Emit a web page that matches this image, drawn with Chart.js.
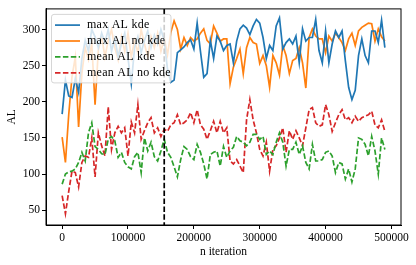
<!DOCTYPE html>
<html>
<head>
<meta charset="utf-8">
<script src="https://cdn.jsdelivr.net/npm/chart.js@4.4.0/dist/chart.umd.min.js"></script>
<style>
  html, body { margin: 0; padding: 0; background: #fff; }
  #wrap { width: 416px; height: 265px; }
</style>
</head>
<body>
<div id="wrap"><canvas id="alChart" width="416" height="265"></canvas></div>
<script>
// x positions of the samples (training iteration)
const iterations = [
  0, 5000, 10000, 15000, 20000, 25000, 30000, 35000, 40000, 45000,
  50000, 55000, 60000, 65000, 70000, 75000, 80000, 85000, 90000, 95000,
  100000, 105000, 110000, 115000, 120000, 125000, 130000, 135000, 140000, 145000,
  150000, 155000, 160000, 165000, 170000, 175000, 180000, 185000, 190000, 195000,
  200000, 205000, 210000, 215000, 220000, 225000, 230000, 235000, 240000, 245000,
  250000, 255000, 260000, 265000, 270000, 275000, 280000, 285000, 290000, 295000,
  300000, 305000, 310000, 315000, 320000, 325000, 330000, 335000, 340000, 345000,
  350000, 355000, 360000, 365000, 370000, 375000, 380000, 385000, 390000, 395000,
  400000, 405000, 410000, 415000, 420000, 425000, 430000, 435000, 440000, 445000,
  450000, 455000, 460000, 465000, 470000, 475000, 480000, 485000, 490000
];

const maxKde = [
  183, 230, 208, 206, 232, 213, 260, 285, 270, 300,
  290, 275, 295, 282, 300, 270, 288, 262, 280, 295,
  260, 225, 275, 290, 268, 285, 298, 275, 292, 280,
  300, 285, 245, 227, 230, 268, 272, 276, 282, 286,
  273, 309, 270, 234, 239, 285, 260, 291, 284, 271,
  278, 280, 254, 284, 301, 306, 302, 293, 305, 314,
  309, 289, 260, 278, 271, 305, 316, 273, 282, 287,
  280, 291, 254, 301, 284, 289, 289, 314, 271, 254,
  298, 254, 280, 298, 289, 298, 257, 220, 203, 216,
  264, 287, 264, 254, 298, 298, 282, 313, 275
];

const maxNoKde = [
  151, 116, 182, 235, 262, 165, 240, 275, 258, 280,
  196, 272, 290, 262, 285, 300, 275, 258, 290, 270,
  295, 262, 285, 268, 300, 280, 262, 290, 275, 295,
  270, 288, 265, 296, 312, 300, 273, 289, 278, 289,
  284, 287, 295, 301, 285, 280, 305, 295, 284, 287,
  287, 225, 248, 260, 273, 239, 275, 289, 282, 280,
  253, 264, 250, 220, 264, 254, 237, 278, 264, 239,
  257, 260, 275, 254, 219, 289, 301, 291, 287, 287,
  268, 291, 284, 295, 289, 282, 271, 287, 295, 278,
  298, 303, 306, 309, 308, 284, 301, 290, 284
];

const meanKde = [
  86, 100, 103, 104, 107, 116, 130, 118, 157, 171,
  138, 134, 128, 127, 148, 152, 146, 123, 130, 116,
  110, 107, 124, 130, 102, 150, 132, 144, 124, 118,
  132, 148, 130, 123, 110, 96, 120, 138, 134, 124,
  120, 141, 130, 114, 93, 127, 130, 132, 111, 138,
  123, 132, 137, 152, 146, 144, 139, 144, 155, 155,
  148, 152, 127, 132, 127, 144, 157, 144, 111, 134,
  134, 144, 127, 139, 116, 107, 141, 118, 118, 120,
  130, 132, 125, 102, 116, 114, 93, 107, 89, 107,
  150, 148, 141, 125, 152, 132, 100, 150, 134
];

const meanNoKde = [
  70, 45, 76, 104, 102, 82, 116, 125, 123, 150,
  96, 157, 139, 125, 193, 134, 157, 166, 157, 164,
  125, 172, 157, 196, 148, 160, 171, 178, 157, 164,
  152, 162, 159, 168, 171, 182, 168, 171, 175, 185,
  171, 189, 168, 162, 148, 160, 173, 157, 173, 157,
  164, 118, 114, 120, 111, 102, 175, 203, 175, 157,
  134, 125, 144, 104, 134, 139, 150, 164, 130, 160,
  148, 160, 150, 139, 164, 189, 192, 171, 166, 168,
  196, 182, 159, 171, 182, 189, 175, 178, 171, 180,
  173, 178, 180, 182, 187, 168, 164, 175, 159
];

const seriesNames = ['max AL kde', 'max AL no kde', 'mean AL kde', 'mean AL no kde'];
const xTicks = [0, 100000, 200000, 300000, 400000, 500000];
const yTicks = [50, 100, 150, 200, 250, 300];
const splitIteration = 155000;

const serif = "'Liberation Serif', 'DejaVu Serif', serif";

function points(values) {
  return values.map((v, i) => ({ x: iterations[i], y: v }));
}

// box around the whole plot area, like matplotlib spines
const frame = {
  id: 'frame',
  afterDraw(chart) {
    const { ctx, chartArea: a } = chart;
    ctx.save();
    ctx.strokeStyle = '#000';
    ctx.lineWidth = 1;
    ctx.strokeRect(a.left, a.top, a.right - a.left, a.bottom - a.top);
    ctx.restore();
  }
};

// dashed vertical marker
const splitLine = {
  id: 'splitLine',
  afterDatasetsDraw(chart) {
    const { ctx, chartArea: a } = chart;
    const x = chart.scales.x.getPixelForValue(splitIteration);
    ctx.save();
    ctx.strokeStyle = '#000';
    ctx.lineWidth = 1.7;
    ctx.setLineDash([5.5, 2.4]);
    ctx.beginPath();
    ctx.moveTo(x, a.top);
    ctx.lineTo(x, a.bottom);
    ctx.stroke();
    ctx.restore();
  }
};

// legend drawn inside the axes (upper left)
const insideLegend = {
  id: 'insideLegend',
  afterDraw(chart) {
    const { ctx, chartArea: a } = chart;
    const x0 = a.left + 5.5, y0 = a.top + 5.5, w = 119.5, h = 68.5;
    ctx.save();
    ctx.beginPath();
    ctx.roundRect(x0, y0, w, h, 2.5);
    ctx.fillStyle = 'rgba(255,255,255,0.8)';
    ctx.fill();
    ctx.strokeStyle = 'rgba(204,204,204,0.8)';
    ctx.lineWidth = 1;
    ctx.stroke();
    chart.data.datasets.forEach((ds, i) => {
      const y = y0 + 10.7 + i * 15.9;
      ctx.beginPath();
      ctx.setLineDash(ds.borderDash || []);
      ctx.strokeStyle = ds.borderColor;
      ctx.lineWidth = ds.borderWidth;
      ctx.moveTo(x0 + 3.5, y);
      ctx.lineTo(x0 + 28.5, y);
      ctx.stroke();
      ctx.setLineDash([]);
      ctx.fillStyle = '#000';
      ctx.font = '12px ' + serif;
      ctx.letterSpacing = '0.25px';
      ctx.textBaseline = 'middle';
      ctx.fillText(ds.label, x0 + 35.5, y);
    });
    ctx.restore();
  }
};

const tickFont = { family: serif, size: 11.5 };

new Chart(document.getElementById('alChart'), {
  type: 'line',
  data: {
    datasets: [
      { label: seriesNames[0], data: points(maxKde), borderColor: '#1f77b4', borderWidth: 1.7 },
      { label: seriesNames[1], data: points(maxNoKde), borderColor: '#ff7f0e', borderWidth: 1.7 },
      { label: seriesNames[2], data: points(meanKde), borderColor: '#2ca02c', borderWidth: 1.7, borderDash: [5.5, 2.4] },
      { label: seriesNames[3], data: points(meanNoKde), borderColor: '#d62728', borderWidth: 1.7, borderDash: [5.5, 2.4] }
    ]
  },
  options: {
    responsive: false,
    animation: false,
    layout: { padding: { left: 0, right: 15, top: 7, bottom: 0 } },
    elements: { point: { radius: 0 }, line: { tension: 0, fill: false } },
    plugins: { legend: { display: false }, tooltip: { enabled: false } },
    scales: {
      x: {
        type: 'linear',
        min: -24500,
        max: 514500,
        afterBuildTicks: s => { s.ticks = xTicks.map(v => ({ value: v })); },
        afterFit: s => { s.height = 40; },
        ticks: { callback: v => String(v), font: tickFont, color: '#000', padding: 2, maxRotation: 0, autoSkip: false },
        grid: { drawOnChartArea: false, tickLength: 4, color: '#000' },
        border: { color: '#000', width: 1 },
        title: { display: true, text: 'n iteration', font: tickFont, color: '#000', padding: { top: 0, bottom: 6 } }
      },
      y: {
        min: 29.4,
        max: 328.6,
        afterBuildTicks: s => { s.ticks = yTicks.map(v => ({ value: v })); },
        afterFit: s => { s.width = 46; },
        ticks: { font: tickFont, color: '#000', padding: 2, autoSkip: false },
        grid: { drawOnChartArea: false, tickLength: 4, color: '#000' },
        border: { color: '#000', width: 1 },
        title: { display: true, text: 'AL', font: tickFont, color: '#000', padding: { top: 5, bottom: 0 } }
      }
    }
  },
  plugins: [splitLine, frame, insideLegend]
});
</script>
</body>
</html>
